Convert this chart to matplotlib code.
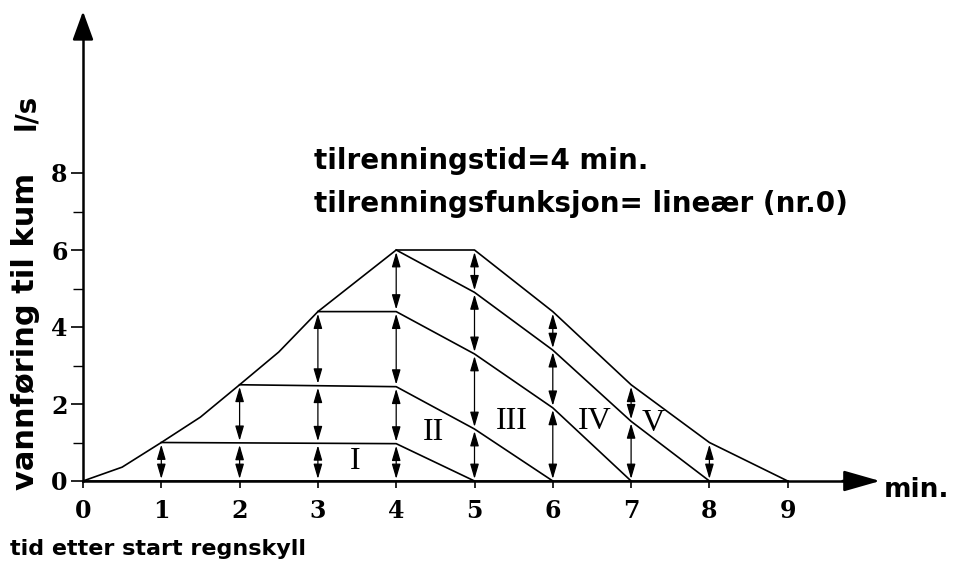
import numpy as np
import matplotlib
matplotlib.use("Agg")
import matplotlib.pyplot as plt

# ytre hydrogram (sum av alle bidrag)
t_ytre = [0, 0.5, 1, 1.5, 2, 2.5, 3, 3.5, 4, 5, 6, 7, 8, 9]
q_ytre = [0, 0.36, 1.0, 1.66, 2.5, 3.35, 4.4, 5.2, 6.0, 6.0, 4.4, 2.5, 1.0, 0]

# delhydrogram (akkumulert)
t_lag1 = [1, 4, 5]
q_lag1 = [1.0, 0.97, 0]
t_lag2 = [2, 4, 5, 6]
q_lag2 = [2.5, 2.45, 1.35, 0]
t_lag3 = [3, 4, 5, 6, 7]
q_lag3 = [4.4, 4.4, 3.3, 1.9, 0]
t_lag4 = [4, 5, 6, 7, 8]
q_lag4 = [6.0, 4.9, 3.4, 1.55, 0]

roman = ["I", "II", "III", "IV", "V"]
roman_x = [3.47, 4.47, 5.48, 6.54, 7.28]
roman_y = [0.5, 1.27, 1.55, 1.55, 1.5]

x_ticks = list(range(10))
y_ticks = [0, 2, 4, 6, 8]

fig = plt.figure(figsize=(9.62, 5.66), dpi=100)
ax = fig.add_axes([83/962, 85/566, 783/962, 462/566])
ax.set_xlim(0, 10)
ax.set_ylim(0, 12)

lw = 1.2
ax.plot(t_ytre, q_ytre, 'k', lw=lw)
ax.plot([0, 9], [0, 0], 'k', lw=lw)
lag = [(t_lag1, q_lag1), (t_lag2, q_lag2), (t_lag3, q_lag3), (t_lag4, q_lag4)]
for t, q in lag:
    ax.plot(t, q, 'k', lw=lw)

# doble piler mellom linjene ved hvert heltall
alle = [(t_ytre, q_ytre)] + lag
for xi in range(1, 9):
    verdier = {0.0}
    for t, q in alle:
        if t[0] <= xi <= t[-1]:
            verdier.add(round(float(np.interp(xi, t, q)), 3))
    verdier = sorted(verdier)
    for a, b in zip(verdier[:-1], verdier[1:]):
        ax.annotate('', xy=(xi, b), xytext=(xi, a),
                    arrowprops=dict(arrowstyle='<|-|>,head_length=0.75,head_width=0.22',
                                    color='k', lw=0.9, shrinkA=1.5, shrinkB=1.5,
                                    mutation_scale=12))

for r, x, y in zip(roman, roman_x, roman_y):
    ax.text(x, y, r, family='Liberation Serif', fontsize=23, ha='center', va='center')

# akser med piler
for s in ['top', 'right']:
    ax.spines[s].set_visible(False)
ax.spines['left'].set_linewidth(1.8)
ax.spines['bottom'].set_linewidth(1.8)
ax.annotate('', xy=(0, 12.2), xytext=(0, 11.5),
            arrowprops=dict(arrowstyle='-|>,head_length=1.1,head_width=0.4',
                            color='k', lw=1.8, shrinkA=0, shrinkB=0, mutation_scale=16),
            annotation_clip=False)
ax.annotate('', xy=(10.18, 0), xytext=(9.7, 0),
            arrowprops=dict(arrowstyle='-|>,head_length=1.4,head_width=0.4',
                            color='k', lw=1.8, shrinkA=0, shrinkB=0, mutation_scale=16),
            annotation_clip=False)

ax.set_xticks(x_ticks)
ax.set_yticks(y_ticks)
ax.set_yticks([1, 3, 5, 7], minor=True)
ax.tick_params(axis='x', direction='out', length=5, width=1.2, pad=8)
ax.tick_params(axis='y', which='major', direction='out', length=9, width=1.2, pad=2)
ax.tick_params(axis='y', which='minor', direction='out', length=7, width=1.0)
for lab in ax.get_xticklabels() + ax.get_yticklabels():
    lab.set_family('DejaVu Serif')
    lab.set_fontweight('bold')
    lab.set_fontsize(17)

tekst = dict(family='DejaVu Sans', fontweight='bold', color='k')
fig.text(26/962, 1 - 490/566, "vannføring til kum", rotation=90,
         ha='center', va='bottom', fontsize=22, **tekst)
fig.text(26/962, 1 - 130/566, "l/s", rotation=90,
         ha='center', va='bottom', fontsize=20, **tekst)
fig.text(10/962, 1 - 555/566, "tid etter start regnskyll",
         ha='left', va='baseline', fontsize=16, **tekst)
fig.text(884/962, 1 - 497/566, "min.",
         ha='left', va='baseline', fontsize=19, **tekst)
ax.text(2.95, 8.1, "tilrenningstid=4 min.", ha='left', va='baseline',
        fontsize=20, **tekst)
ax.text(2.95, 7.0, "tilrenningsfunksjon= lineær (nr.0)", ha='left', va='baseline',
        fontsize=20, **tekst)

fig.savefig("out.png", dpi=100)
